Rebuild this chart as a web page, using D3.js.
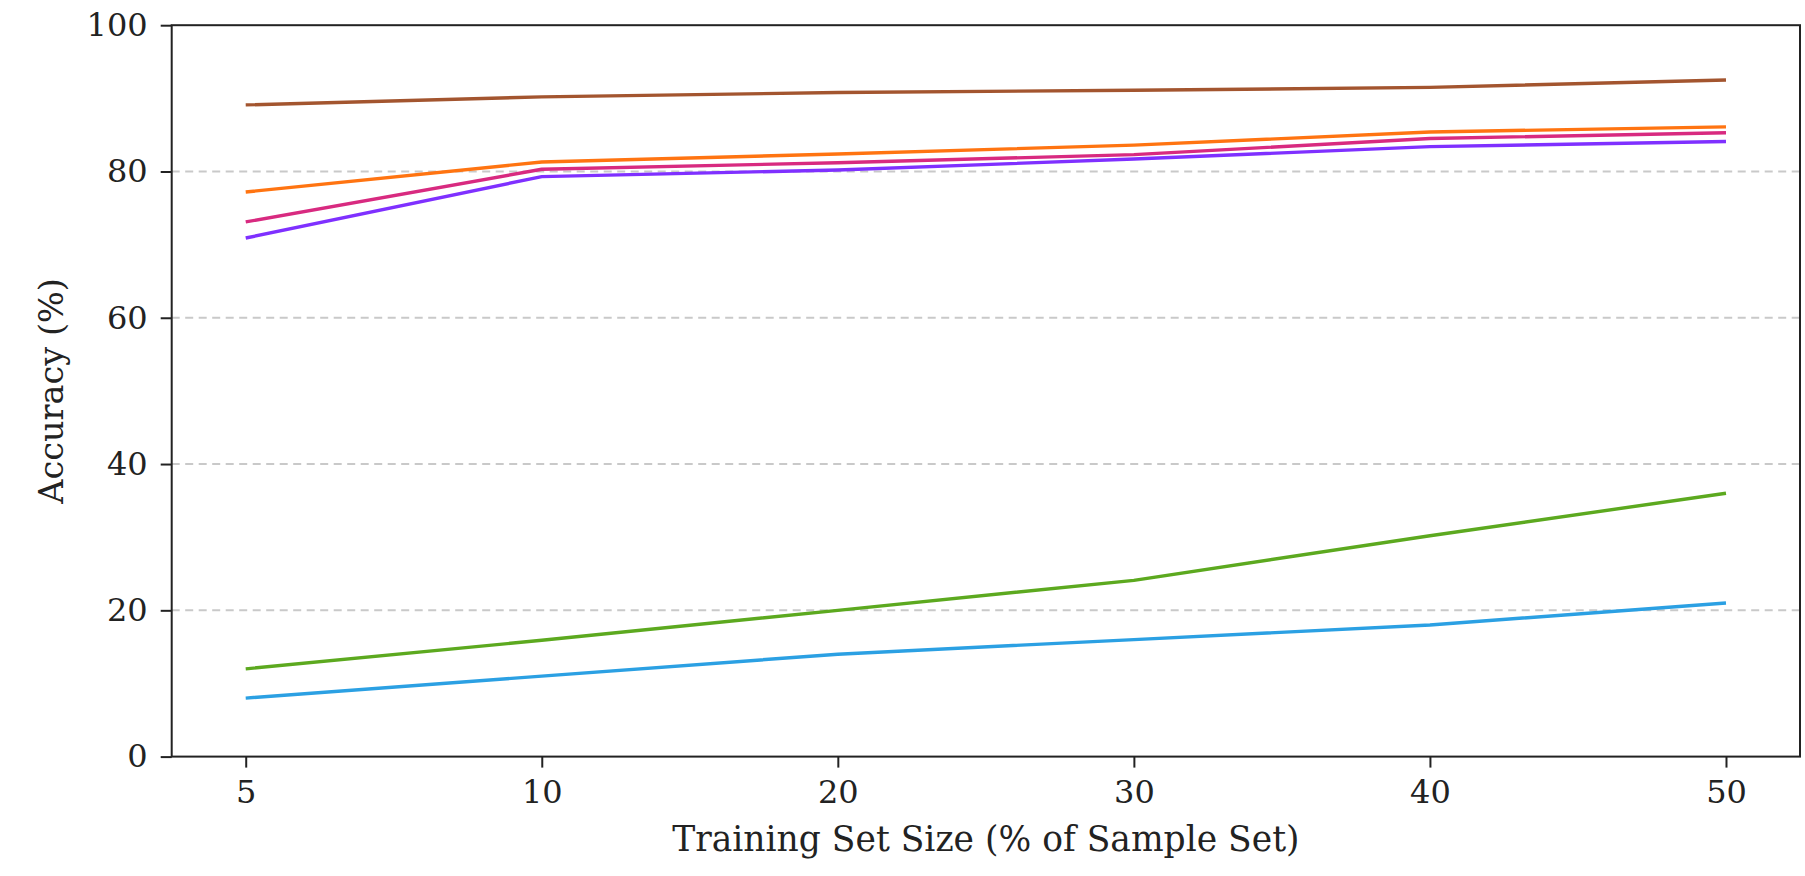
<!DOCTYPE html>
<html>
<head>
<meta charset="utf-8">
<script src="https://cdn.jsdelivr.net/npm/d3@7"></script>
<style>
  html, body { margin: 0; padding: 0; background: #fff; }
  svg { display: block; }
  text { font-family: "DejaVu Serif", serif; fill: #222; }
</style>
</head>
<body>
<svg id="chart" width="1805" height="876"></svg>
<script>
// ---- data ----
const categories = ["5", "10", "20", "30", "40", "50"];
const yTicks = [0, 20, 40, 60, 80, 100];
const seriesBrown   = [89.1, 90.2, 90.8, 91.1, 91.5, 92.5];
const seriesOrange  = [77.2, 81.3, 82.4, 83.6, 85.4, 86.1];
const seriesMagenta = [73.1, 80.3, 81.2, 82.3, 84.5, 85.3];
const seriesPurple  = [70.9, 79.3, 80.2, 81.7, 83.4, 84.1];
const seriesGreen   = [12.0, 15.9, 20.0, 24.1, 30.2, 36.0];
const seriesBlue    = [8.0, 11.0, 14.0, 16.0, 18.0, 21.0];
const xTitle = "Training Set Size (% of Sample Set)";
const yTitle = "Accuracy (%)";

const series = [
  { values: seriesBlue,    color: "#2ba0e3" },
  { values: seriesGreen,   color: "#5ca91f" },
  { values: seriesPurple,  color: "#7f30ff" },
  { values: seriesMagenta, color: "#d82a80" },
  { values: seriesOrange,  color: "#ff7411" },
  { values: seriesBrown,   color: "#a3552f" }
];

// ---- layout ----
const plotL = 171.7, plotR = 1800, plotT = 25.2, plotB = 756.6;
const svg = d3.select("#chart");

const x = d3.scalePoint().domain(categories).range([plotL, plotR]).padding(0.25);
const y = d3.scaleLinear().domain([0, 100]).range([plotB, plotT]);

// grid
svg.append("g")
  .selectAll("line")
  .data(yTicks.filter(d => d > 0 && d < 100))
  .join("line")
  .attr("x1", plotL).attr("x2", plotR)
  .attr("y1", d => y(d)).attr("y2", d => y(d))
  .attr("stroke", "#c9c9c9")
  .attr("stroke-width", 2)
  .attr("stroke-dasharray", "8,5.5");

// lines
const line = d3.line().x((d, i) => x(categories[i])).y(d => y(d));
svg.append("g")
  .selectAll("path")
  .data(series)
  .join("path")
  .attr("d", d => line(d.values))
  .attr("fill", "none")
  .attr("stroke", d => d.color)
  .attr("stroke-width", 3.4)
  .attr("stroke-linejoin", "round")
  .attr("stroke-linecap", "butt");

// axes
const xAxis = svg.append("g")
  .attr("transform", `translate(0,${plotB})`)
  .call(d3.axisBottom(x).tickSize(11).tickPadding(13));
const yAxis = svg.append("g")
  .attr("transform", `translate(${plotL},0)`)
  .call(d3.axisLeft(y).tickValues(yTicks).tickSize(11).tickPadding(13));

[xAxis, yAxis].forEach(a => {
  a.select(".domain").remove();
  a.selectAll(".tick line").attr("stroke", "#222").attr("stroke-width", 2);
  a.selectAll(".tick text")
    .attr("font-family", "DejaVu Serif")
    .attr("font-size", 32)
    .attr("fill", "#222");
});

// frame
svg.append("rect")
  .attr("x", plotL).attr("y", plotT)
  .attr("width", plotR - plotL).attr("height", plotB - plotT)
  .attr("fill", "none")
  .attr("stroke", "#222")
  .attr("stroke-width", 2);

// titles
svg.append("text")
  .attr("x", (plotL + plotR) / 2)
  .attr("y", 851)
  .attr("text-anchor", "middle")
  .attr("font-size", 34.5)
  .text(xTitle);

svg.append("text")
  .attr("transform", `translate(63,${(plotT + plotB) / 2}) rotate(-90)`)
  .attr("text-anchor", "middle")
  .attr("font-size", 33.5)
  .text(yTitle);
</script>
</body>
</html>
